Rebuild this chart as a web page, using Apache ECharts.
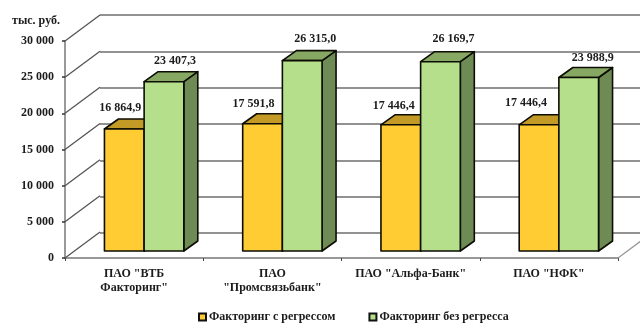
<!DOCTYPE html>
<html><head><meta charset="utf-8">
<style>html,body{margin:0;padding:0;background:#fff}#c{width:640px;height:323px;filter:blur(0.35px)}</style>
<script src="https://cdn.jsdelivr.net/npm/echarts@6/dist/echarts.min.js"></script></head>
<body><div id="c"></div>
<script>
const categories = ['ПАО "ВТБ\nФакторинг"', 'ПАО\n"Промсвязьбанк"', 'ПАО "Альфа-Банк"', 'ПАО "НФК"'];
const withRecourse = [16864.9, 17591.8, 17446.4, 17446.4];
const withoutRecourse = [23407.3, 26315.0, 26169.7, 23988.9];
const seriesNames = ['Факторинг с регрессом', 'Факторинг без регресса'];
const yTicks = [0, 5000, 10000, 15000, 20000, 25000, 30000];

const FONT = '"Liberation Serif","Times New Roman",serif';
const INK = '#1c1c1c';
const WALL = [35, -26], PLANE = [10, -7], DEPTH = [14, -10];
const labelShiftA = [[-4, -21], [-9, -20], [-7, -19], [-13, -22]];
const labelShiftB = [[11, -21], [13, -22], [13, -23], [14, -20]];
const fmt = v => { const [a, b] = v.toFixed(1).split('.');
  return a.replace(/\B(?=(\d{3})+$)/g, ' ') + ',' + b; };

function barSeries(name, values, side, colors, shifts) {
  return {
    name, type: 'custom', xAxisIndex: 0, yAxisIndex: 0, z: side < 0 ? 5 : 6, clip: false,
    itemStyle: { color: colors.front },
    data: values.map((v, i) => [i, v]),
    renderItem(params, api) {
      const i = api.value(0), v = api.value(1);
      const base = api.coord([i, 0]), top = api.coord([i, v]);
      const w = api.size([1, 0])[0] * 0.287;
      const x0 = base[0] + PLANE[0] + (side < 0 ? -w : 0), x1 = x0 + w;
      const yb = base[1] + PLANE[1], yt = top[1] + PLANE[1];
      const [dx, dy] = DEPTH;
      const line = { stroke: '#0d0d05', lineWidth: 1.6, lineJoin: 'round' };
      const [sx, sy] = shifts[i];
      return { type: 'group', children: [
        { type: 'polygon', shape: { points: [[x1, yt], [x1 + dx, yt + dy], [x1 + dx, yb + dy], [x1, yb]] },
          style: { fill: colors.side, ...line } },
        { type: 'polygon', shape: { points: [[x0, yt], [x0 + dx, yt + dy], [x1 + dx, yt + dy], [x1, yt]] },
          style: { fill: colors.top, ...line } },
        { type: 'rect', shape: { x: x0, y: yt, width: w, height: yb - yt },
          style: { fill: colors.front, ...line } },
        { type: 'text', x: (x0 + x1) / 2 + sx, y: yt + sy,
          style: { text: fmt(v), fill: INK, font: 'bold 12px ' + FONT, textAlign: 'center', textVerticalAlign: 'middle' } }
      ] };
    }
  };
}

const chart = echarts.init(document.getElementById('c'), null, { renderer: 'canvas' });
chart.setOption({
  animation: false,
  backgroundColor: '#fff',
  grid: [
    { left: 65, top: 41, width: 553, height: 217 },
    { left: 100, top: 15, width: 553, height: 218 }
  ],
  xAxis: [
    { type: 'category', gridIndex: 0, data: categories, boundaryGap: true,
      axisLine: { lineStyle: { color: '#777', width: 1.5 } },
      axisTick: { show: true, alignWithLabel: false, length: 3, lineStyle: { color: '#444', width: 1 } },
      axisLabel: { interval: 0, color: INK, fontFamily: FONT, fontWeight: 'bold', fontSize: 12, lineHeight: 14, margin: 9 } },
    { type: 'value', gridIndex: 1, min: 0, max: 1, show: false }
  ],
  yAxis: [
    { type: 'value', gridIndex: 0, min: 0, max: 30000, interval: 5000,
      name: 'тыс. руб.', nameLocation: 'end', nameGap: 14,
      nameTextStyle: { color: INK, fontFamily: FONT, fontWeight: 'bold', fontSize: 12, align: 'center', padding: [0, 0, 0, -58] },
      axisLine: { show: true, lineStyle: { color: '#777', width: 1.5 } },
      axisTick: { show: true, length: 3, lineStyle: { color: '#333', width: 1.5 } },
      splitLine: { show: false },
      axisLabel: { color: INK, fontFamily: FONT, fontWeight: 'bold', fontSize: 12, margin: 11, padding: [5, 0, 0, 0],
        formatter: v => String(v).replace(/\B(?=(\d{3})+$)/g, ' ') } },
    { type: 'value', gridIndex: 1, min: 0, max: 30000, interval: 5000,
      axisLine: { show: false }, axisTick: { show: false }, axisLabel: { show: false },
      splitLine: { show: true, lineStyle: { color: '#6e6e6e', width: 1.5 } } }
  ],
  legend: {
    left: 198, top: 311, padding: 0, itemWidth: 7, itemHeight: 7, itemGap: 33, icon: 'rect',
    textStyle: { color: INK, fontFamily: FONT, fontWeight: 'bold', fontSize: 12, padding: [0, 0, 0, -2] },
    data: [
      { name: seriesNames[0], itemStyle: { color: '#FFCC33', borderColor: '#111', borderWidth: 2 } },
      { name: seriesNames[1], itemStyle: { color: '#B5DF8A', borderColor: '#111', borderWidth: 2 } }
    ]
  },
  series: [
    { type: 'custom', name: 'wall', xAxisIndex: 0, yAxisIndex: 0, z: 1, clip: false,
      data: yTicks.map(t => [t]), encode: { y: 0 },
      renderItem(params, api) {
        const y = api.coord([0, api.value(0)])[1], x = params.coordSys.x;
        return { type: 'line', shape: { x1: x, y1: y, x2: x + WALL[0], y2: y + WALL[1] },
          style: { stroke: '#555', lineWidth: 1.3 } };
      } },
    { type: 'custom', name: 'floor', xAxisIndex: 0, yAxisIndex: 0, z: 1, clip: false,
      data: [[0]], encode: { y: 0 },
      renderItem(params, api) {
        const y = api.coord([0, 0])[1], x = params.coordSys.x + params.coordSys.width;
        return { type: 'line', shape: { x1: x, y1: y, x2: x + WALL[0], y2: y + WALL[1] },
          style: { stroke: '#999', lineWidth: 1.3 } };
      } },
    barSeries(seriesNames[0], withRecourse, -1, { front: '#FFCC33', top: '#C49A26', side: '#C49A26' }, labelShiftA),
    barSeries(seriesNames[1], withoutRecourse, 1, { front: '#B5DF8A', top: '#87A862', side: '#6F8B55' }, labelShiftB)
  ]
});
</script></body></html>
